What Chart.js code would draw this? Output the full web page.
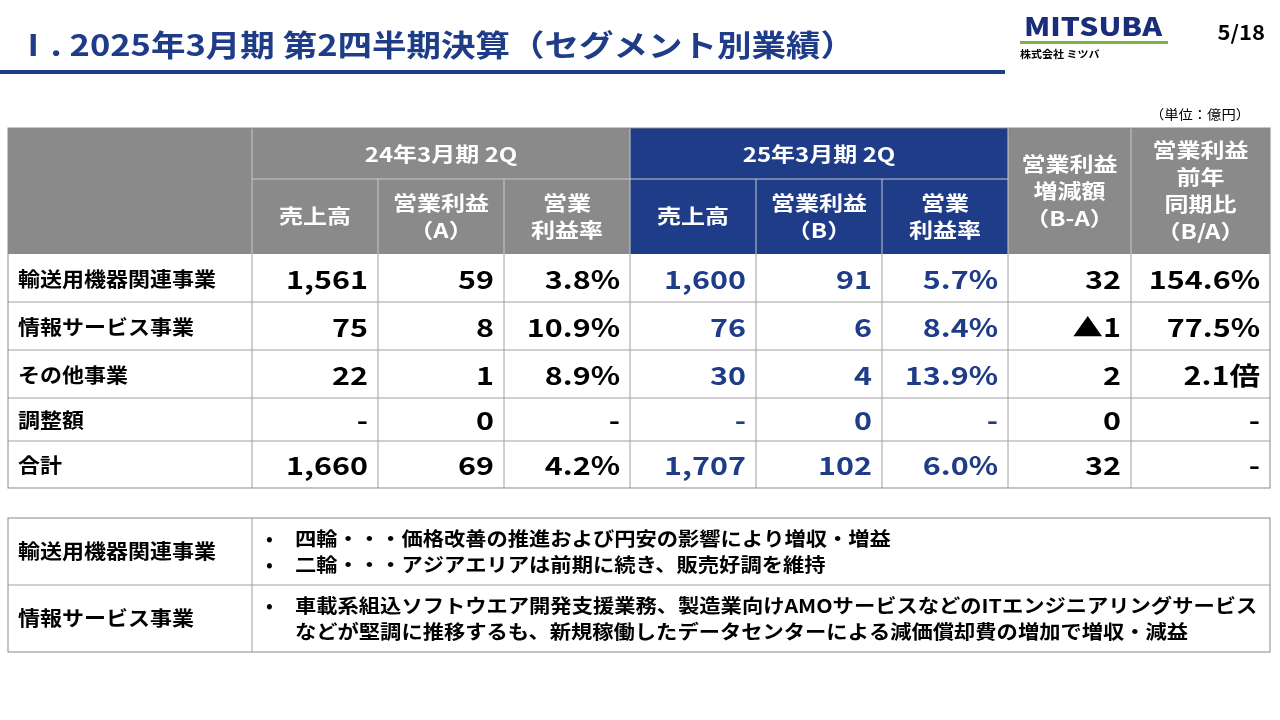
<!DOCTYPE html>
<html><head><meta charset="utf-8">
<script src="https://cdn.jsdelivr.net/npm/chart.js@4"></script>
<style>html,body{margin:0;padding:0;background:#fff}canvas{display:block}</style>
</head><body>
<canvas id="c" width="1280" height="720"></canvas>
<script>
const categories = ["輸送用機器関連事業","情報サービス事業","その他事業","調整額","合計"];
const sales24 = ["1,561","75","22","-","1,660"];
const op24 = ["59","8","1","0","69"];
const margin24 = ["3.8%","10.9%","8.9%","-","4.2%"];
const sales25 = ["1,600","76","30","-","1,707"];
const op25 = ["91","6","4","0","102"];
const margin25 = ["5.7%","8.4%","13.9%","-","6.0%"];
const diffBA = ["32","▲1","2","0","32"];
const ratioBA = ["154.6%","77.5%","2.1倍","-","-"];
const notes = [
  ["輸送用機器関連事業", ["四輪・・・価格改善の推進および円安の影響により増収・増益","二輪・・・アジアエリアは前期に続き、販売好調を維持"], true],
  ["情報サービス事業", ["車載系組込ソフトウエア開発支援業務、製造業向けAMOサービスなどのITエンジニアリングサービス","などが堅調に推移するも、新規稼働したデータセンターによる減価償却費の増加で増収・減益"], false]
];
const F = '"Noto Sans CJK JP","Noto Sans",sans-serif';
const NAVY = '#1f3c88', GRAY = '#8a8a8a', LINE = '#a0a0a0';

const tablePlugin = {
  id: 'table',
  afterDraw(chart) {
    const ctx = chart.ctx, X = v => chart.scales.x.getPixelForValue(v), Y = v => chart.scales.y.getPixelForValue(v);
    const rect = (x0,y0,x1,y1,fill) => { ctx.fillStyle = fill; ctx.fillRect(X(x0),Y(y0),X(x1)-X(x0),Y(y1)-Y(y0)); };
    const line = (x0,y0,x1,y1,c,w) => { ctx.strokeStyle=c; ctx.lineWidth=w||1; ctx.beginPath(); ctx.moveTo(X(x0),Y(y0)); ctx.lineTo(X(x1),Y(y1)); ctx.stroke(); };
    const text = (s,x,y,opt) => { ctx.save(); ctx.font = (opt.w||'bold')+' '+opt.s+'px '+F; ctx.fillStyle=opt.c||'#000'; ctx.textAlign=opt.a||'left'; ctx.textBaseline='middle';
      ctx.translate(X(x),Y(y)); ctx.scale(opt.sx||1,1); ctx.fillText(s,0,0); ctx.restore(); };
    ctx.save();
    text("Ⅰ. 2025年3月期 第2四半期決算（セグメント別業績）",16,45,{s:30,c:NAVY,sx:1.15});
    rect(0,70,1005,74,NAVY);
    text("MITSUBA",1093,26,{s:25,c:'#1a2d7a',a:'center',w:'900',sx:1.2});
    rect(1020,41,1168,44,'#7cb342');
    text("株式会社 ミツバ",1020,54,{s:10,c:'#000',sx:1.1});
    text("5/18",1265,32,{s:20,a:'right',sx:1.1});
    text("（単位：億円）",1250,114,{s:13,w:'normal',a:'right',sx:1.1});
    const cx = [8,252,378,504,630,756,882,1008,1131,1270];
    const ry = [128,179,254,302,350,398,441,488];
    rect(8,128,1270,254,GRAY);
    rect(630,128,1008,254,NAVY);
    const hw = {s:20,c:'#fff',a:'center',sx:1.2};
    text("24年3月期 2Q",441,154,hw); text("25年3月期 2Q",819,154,hw);
    const sub = [["売上高"],["営業利益","（A）"],["営業","利益率"],["売上高"],["営業利益","（B）"],["営業","利益率"]];
    sub.forEach((l,i)=>{ const mx=(cx[i+1]+cx[i+2])/2; if(l.length==1) text(l[0],mx,216,hw); else {text(l[0],mx,203,hw);text(l[1],mx,230,hw);} });
    [["営業利益","増減額","（B-A）"],["営業利益","前年","同期比","（B/A）"]].forEach((l,i)=>{
      const mx=(cx[7+i]+cx[8+i])/2, n=l.length, st=191-(n-1)*13.5; l.forEach((s,j)=>text(s,mx,st+j*27,hw)); });
    line(252,179,1008,179,'#c8c8c8',1);
    [252,630,1008,1131].forEach(x=>line(x,128,x,254,'#c8c8c8',1));
    [378,504,756,882].forEach(x=>line(x,179,x,254,'#c8c8c8',1));
    const cols=[sales24,op24,margin24,sales25,op25,margin25,diffBA,ratioBA];
    categories.forEach((c,r)=>{
      const my=(ry[r+2]+ry[r+3])/2+1;
      text(c,18,my,{s:20,sx:1.1});
      cols.forEach((col,k)=>text(col[r],cx[k+2]-10,my,{s:25,a:'right',sx:1.22,c:(k>=3&&k<=5)?NAVY:'#000'}));
    });
    for(let r=3;r<=6;r++) line(8,ry[r],1270,ry[r],LINE,1);
    for(let i=1;i<9;i++) line(cx[i],254,cx[i],488,LINE,1);
    ctx.strokeStyle='#888'; ctx.lineWidth=1; ctx.strokeRect(X(8),Y(128),X(1270)-X(8),Y(488)-Y(128));
    const ny=[518,585,652];
    notes.forEach((n,r)=>{
      const my=(ny[r]+ny[r+1])/2;
      text(n[0],18,my,{s:20,sx:1.1});
      n[1].forEach((s,j)=>{ const yy=my-13+j*26; if(j==0||n[2]) text("•",266,yy,{s:18}); text(s,295,yy,{s:19,sx:1.12}); });
    });
    line(8,585,1270,585,LINE,1); line(252,518,252,652,LINE,1);
    ctx.strokeStyle='#888'; ctx.strokeRect(X(8),Y(518),X(1270)-X(8),Y(652)-Y(518));
    ctx.restore();
  }
};
new Chart(document.getElementById('c'),{
  type:'scatter',
  data:{datasets:[{data:[]}]},
  options:{responsive:false,animation:false,events:[],layout:{padding:0},
    plugins:{legend:{display:false},tooltip:{enabled:false}},
    scales:{x:{type:'linear',min:0,max:1280,display:false},y:{type:'linear',min:0,max:720,reverse:true,display:false}}},
  plugins:[tablePlugin]
});
</script>
</body></html>
